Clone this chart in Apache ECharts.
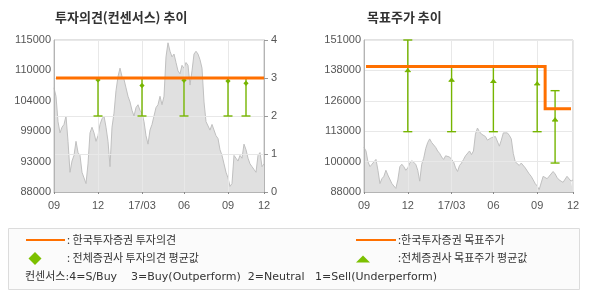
<!DOCTYPE html>
<html><head><meta charset="utf-8">
<script src="https://cdn.jsdelivr.net/npm/echarts@6/dist/echarts.min.js"></script>
<style>html,body{margin:0;padding:0;background:#fff}#c{width:590px;height:300px}</style>
</head><body><div id="c"></div>
<script>
// ---- data ----
const price = [
  106500,105000,100500,98500,99500,100000,101500,97000,91500,93500,
  94500,97000,95000,94500,91500,90500,89500,93000,98500,99500,
  98500,97000,98000,100000,101000,101500,99500,97000,92500,99500,
  102000,106000,108500,110000,108500,108000,
  106500,105000,104000,102500,101500,103000,103500,102500,102000,100500,
  98000,96500,99000,100000,101500,103000,103500,105000,103500,105000,
  112000,114500,113000,112000,112500,111000,109500,109000,
  110500,110000,111000,110500,107000,109500,
  112500,113000,112500,111500,110000,104000,100500,100500,99000,100000,
  100000,98000,97500,95500,94500,93000,91500,90500,89000,89500,
  94500,94000,93500,94500,94000,96500,95500,94000,93000,92500,
  92000,91500,94500,95000,92500,93000
];
const xTickIdx = [0, 22, 44, 65, 87, 105];
const xTickText = ['09', '12', '17/03', '06', '09', '12'];
const leftTickValues = [88000, 93400, 98800, 104200, 109600, 115000];
const leftTickText = ['88000', '93000', '99000', '104000', '110000', '115000'];
const rightTickValues = [88000, 100600, 113200, 125800, 138400, 151000];
const rightTickText = ['88000', '100000', '113000', '126000', '138000', '151000'];
// 한국투자증권 투자의견 [index, value]
const kisOpinion = [[1, 3], [105, 3]];
// 전체증권사 투자의견 [index, min, max, avg]
const consOpinion = [[22, 2, 3, 2.95], [44, 2, 3, 2.8], [65, 2, 3, 2.94], [87, 2, 3, 2.92], [96, 2, 3, 2.86]];
// 한국투자증권 목표주가
const kisTarget = [[1, 140000], [91, 140000], [91, 122500], [104, 122500]];
// 전체증권사 목표주가 [index, min, max, avg]
const consTarget = [[22, 113000, 151000, 138500], [44, 113000, 140000, 134500], [65, 113000, 140000, 134000], [87, 113000, 140000, 133000], [96, 100000, 130000, 118000]];

const cats = price.map((_, i) => String(i));
const ORANGE = '#ff7000', GREEN = '#76b500', LGREEN = '#7cc000';
const labelFont = {fontFamily: 'Liberation Sans', fontSize: 11, color: '#555'};

function nearestLabel(vals, texts, v) {
  let b = 0;
  for (let i = 1; i < vals.length; i++) if (Math.abs(vals[i] - v) < Math.abs(vals[b] - v)) b = i;
  return texts[b];
}
function errRender(shape) {
  return function (params, api) {
    const x = api.value(0);
    const pMin = api.coord([x, api.value(1)]);
    const pMax = api.coord([x, api.value(2)]);
    const pAvg = api.coord([x, api.value(3)]);
    const st = {stroke: GREEN, lineWidth: 1.4};
    const ch = [
      {type: 'line', shape: {x1: pMin[0], y1: pMin[1], x2: pMax[0], y2: pMax[1]}, style: st},
      {type: 'line', shape: {x1: pMin[0] - 4.5, y1: pMin[1], x2: pMin[0] + 4.5, y2: pMin[1]}, style: st},
      {type: 'line', shape: {x1: pMax[0] - 4.5, y1: pMax[1], x2: pMax[0] + 4.5, y2: pMax[1]}, style: st}
    ];
    const cx = pAvg[0], cy = pAvg[1];
    if (shape === 'diamond') {
      ch.push({type: 'polygon', shape: {points: [[cx, cy - 2.6], [cx + 2.6, cy], [cx, cy + 2.6], [cx - 2.6, cy]]}, style: {fill: GREEN}});
    } else {
      ch.push({type: 'polygon', shape: {points: [[cx - 3, cy + 1.5], [cx + 3, cy + 1.5], [cx, cy - 2.5]]}, style: {fill: GREEN}});
      ch.push({type: 'line', shape: {x1: cx - 3, y1: cy + 1.5, x2: cx + 3, y2: cy + 1.5}, style: {stroke: GREEN, lineWidth: 1}});
    }
    return {type: 'group', children: ch};
  };
}
function xAxisDef(gi) {
  const show = (i) => xTickIdx.indexOf(i) >= 0;
  return {
    type: 'category', gridIndex: gi, data: cats, boundaryGap: false, z: 3,
    axisLine: {show: true, lineStyle: {color: '#b4b4b4'}},
    axisTick: {show: true, length: 2, interval: show, lineStyle: {color: '#888'}},
    axisLabel: Object.assign({interval: show, margin: 8, formatter: (v, i) => xTickText[xTickIdx.indexOf(i)] || ''}, labelFont),
    splitLine: {show: true, interval: show, lineStyle: {color: '#e8e8e8'}}
  };
}
const option = {
  backgroundColor: '#fff',
  animation: false,
  grid: [
    {left: 54, top: 40, width: 210, height: 152, show: true, borderColor: '#c4c4c4', borderWidth: 1},
    {left: 364, top: 40, width: 209, height: 152, show: true, borderColor: '#c4c4c4', borderWidth: 1}
  ],
  xAxis: [xAxisDef(0), xAxisDef(1)],
  yAxis: [
    {type: 'value', gridIndex: 0, min: 88000, max: 115000, position: 'left', z: 3,
      axisLine: {show: true, lineStyle: {color: '#b4b4b4'}}, axisTick: {show: false}, splitLine: {show: false},
      axisLabel: Object.assign({customValues: leftTickValues, margin: 3, formatter: v => nearestLabel(leftTickValues, leftTickText, v)}, labelFont)},
    {type: 'value', gridIndex: 0, min: 0, max: 4, interval: 1, position: 'right', z: 3,
      axisLine: {show: true, lineStyle: {color: '#b4b4b4'}}, axisTick: {show: true, length: 4, lineStyle: {color: '#999'}},
      splitLine: {show: true, lineStyle: {color: '#e8e8e8'}},
      axisLabel: Object.assign({margin: 7}, labelFont)},
    {type: 'value', gridIndex: 1, min: 88000, max: 151000, position: 'left', z: 3,
      axisLine: {show: true, lineStyle: {color: '#b4b4b4'}}, axisTick: {show: false}, splitLine: {show: false},
      axisLabel: Object.assign({customValues: rightTickValues, margin: 3, formatter: v => nearestLabel(rightTickValues, rightTickText, v)}, labelFont)},
    {type: 'value', gridIndex: 1, min: 0, max: 5, interval: 1, position: 'right', z: 3,
      axisLine: {show: false}, axisTick: {show: false}, axisLabel: {show: false},
      splitLine: {show: true, lineStyle: {color: '#e8e8e8'}}}
  ],
  series: [
    {type: 'line', xAxisIndex: 0, yAxisIndex: 0, data: price, symbol: 'none', z: 1,
      lineStyle: {color: '#c0c0c0', width: 1}, areaStyle: {color: '#e0e0e0', origin: 'start', opacity: 1}},
    {type: 'custom', xAxisIndex: 0, yAxisIndex: 1, data: consOpinion, renderItem: errRender('diamond'), z: 5,
      encode: {x: 0, y: [1, 2, 3]}},
    {type: 'line', xAxisIndex: 0, yAxisIndex: 1, data: kisOpinion, symbol: 'none', z: 6,
      lineStyle: {color: ORANGE, width: 3}},
    {type: 'line', xAxisIndex: 1, yAxisIndex: 2, data: price, symbol: 'none', z: 1,
      lineStyle: {color: '#c0c0c0', width: 1}, areaStyle: {color: '#e0e0e0', origin: 'start', opacity: 1}},
    {type: 'custom', xAxisIndex: 1, yAxisIndex: 2, data: consTarget, renderItem: errRender('triangle'), z: 5,
      encode: {x: 0, y: [1, 2, 3]}},
    {type: 'line', xAxisIndex: 1, yAxisIndex: 2, data: kisTarget, symbol: 'none', z: 6,
      lineStyle: {color: ORANGE, width: 3, join: 'miter'}}
  ],
  graphic: [
    {type: 'text', x: 55, y: 17, style: {text: '투자의견(컨센서스) 추이', font: 'bold 13px "Noto Sans CJK KR"', fill: '#333', verticalAlign: 'middle'}},
    {type: 'text', x: 367, y: 17, style: {text: '목표주가 추이', font: 'bold 13px "Noto Sans CJK KR"', fill: '#333', verticalAlign: 'middle'}},
    {type: 'rect', shape: {x: 8.5, y: 228.5, width: 571, height: 61}, style: {fill: '#fbfbfb', stroke: '#dcdcdc', lineWidth: 1}},
    {type: 'line', shape: {x1: 26, y1: 240, x2: 65, y2: 240}, style: {stroke: ORANGE, lineWidth: 2}},
    {type: 'text', x: 67, y: 240, style: {text: ': 한국투자증권 투자의견', font: '11px "Noto Sans CJK KR"', fill: '#333', verticalAlign: 'middle'}},
    {type: 'polygon', shape: {points: [[35, 252], [41.5, 258.5], [35, 265], [28.5, 258.5]]}, style: {fill: LGREEN}},
    {type: 'text', x: 67, y: 258, style: {text: ': 전체증권사 투자의견 평균값', font: '11px "Noto Sans CJK KR"', fill: '#333', verticalAlign: 'middle'}},
    {type: 'line', shape: {x1: 356, y1: 240, x2: 396, y2: 240}, style: {stroke: ORANGE, lineWidth: 2}},
    {type: 'text', x: 398, y: 240, style: {text: ':한국투자증권 목표주가', font: '11px "Noto Sans CJK KR"', fill: '#333', verticalAlign: 'middle'}},
    {type: 'polygon', shape: {points: [[356, 262.5], [370, 262.5], [363, 255.5]]}, style: {fill: LGREEN}},
    {type: 'text', x: 398, y: 258, style: {text: ':전체증권사 목표주가 평균값', font: '11px "Noto Sans CJK KR"', fill: '#333', verticalAlign: 'middle'}},
    {type: 'text', x: 25, y: 277, style: {text: '컨센서스:4=S/Buy    3=Buy(Outperform)  2=Neutral   1=Sell(Underperform)', font: '11px "DejaVu Sans", "Noto Sans CJK KR"', fill: '#333', verticalAlign: 'middle'}}
  ]
};
const chart = echarts.init(document.getElementById('c'), null, {renderer: 'canvas'});
chart.setOption(option);
</script></body></html>
